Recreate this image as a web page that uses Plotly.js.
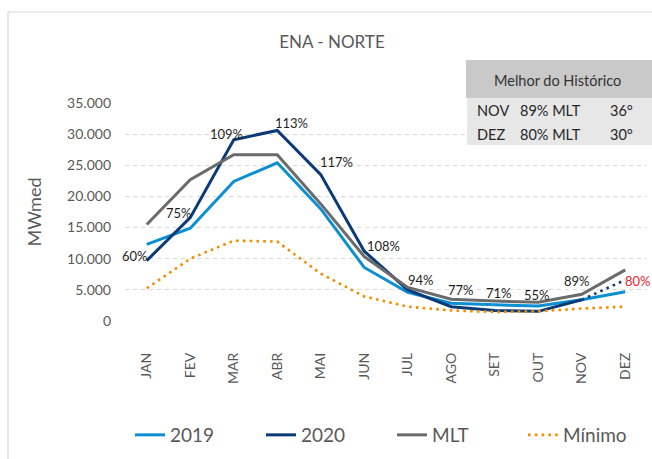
<!DOCTYPE html>
<html>
<head>
<meta charset="utf-8">
<script src="https://cdn.plot.ly/plotly-3.0.1.min.js"></script>
<style>
  html, body { margin: 0; padding: 0; background: #ffffff; }
  #chart { width: 652px; height: 459px; }
</style>
</head>
<body>
<div id="chart"></div>
<script>
// ---- data ----
const months = ['JAN','FEV','MAR','ABR','MAI','JUN','JUL','AGO','SET','OUT','NOV','DEZ'];
const y2019  = [12300, 14900, 22400, 25400, 18000, 8600, 4600, 2850, 2600, 2400, 3400, 4700];
const y2020  = [9700, 16600, 29100, 30600, 23500, 11200, 5000, 2300, 1700, 1550, 3400, null];
const y2020f = [null, null, null, null, null, null, null, null, null, null, 3400, 6600];
const mlt    = [15500, 22700, 26700, 26700, 18800, 10350, 5400, 3500, 3200, 3000, 4300, 8200];
const minimo = [5250, 10000, 12900, 12750, 7600, 3950, 2300, 1700, 1450, 1550, 2000, 2300];
const pctLabels = ['60%','75%','109%','113%','117%','108%','94%','77%','71%','55%','89%','80%'];
const tableHeader = 'Melhor do Histórico';
const tableRows = [['NOV','89% MLT','36°'], ['DEZ','80% MLT','30°']];

// ---- layout helpers (pixel -> paper) ----
const L = 125, R = 647, T = 103, B = 321;
const PX = px => (px - L) / (R - L);
const PY = py => (B - py) / (B - T);
const FONT = 'Lato, "Open Sans", sans-serif';
const GREY = '#595959';

const pctPos = [[135,256],[179,213],[226,134],[291,123],[336,162],[383.5,246],[421,280],[461,290],[499,293],[537,295],[577,281],[638,281]];

const traces = [
  {x: months, y: y2019, name: '2019', type: 'scatter', mode: 'lines',
   line: {color: '#0A8FD2', width: 3}},
  {x: months, y: y2020, name: '2020', type: 'scatter', mode: 'lines',
   line: {color: '#0B3A78', width: 3}},
  {x: months, y: y2020f, name: '2020 (previsão)', type: 'scatter', mode: 'lines', showlegend: false,
   line: {color: '#0B3A78', width: 2.6, dash: '2.6px,4.2px'}},
  {x: months, y: mlt, name: 'MLT', type: 'scatter', mode: 'lines',
   line: {color: '#6B6B6B', width: 3}},
  {x: months, y: minimo, name: 'Mínimo', type: 'scatter', mode: 'lines',
   line: {color: '#F28C00', width: 2.6, dash: '2.6px,4.2px'}}
];

const annotations = [];
pctLabels.forEach((t, i) => {
  annotations.push({
    xref: 'paper', yref: 'paper', x: PX(pctPos[i][0]), y: PY(pctPos[i][1]),
    xanchor: 'center', yanchor: 'middle', showarrow: false, text: t,
    font: {family: FONT, size: 13, color: i === pctLabels.length - 1 ? '#E8262E' : '#1F1F1F'}
  });
});
annotations.push({
  xref: 'paper', yref: 'paper', x: PX(557), y: PY(81), xanchor: 'center', yanchor: 'middle',
  showarrow: false, text: tableHeader, font: {family: FONT, size: 14.5, color: '#333333'}
});
const colX = [475, 518, 608];
const rowY = [110, 134];
tableRows.forEach((row, r) => {
  row.forEach((cell, c) => {
    annotations.push({
      xref: 'paper', yref: 'paper', x: PX(colX[c]), y: PY(rowY[r]), xanchor: 'left', yanchor: 'middle',
      showarrow: false, text: cell, font: {family: FONT, size: 14.5, color: '#262626'}
    });
  });
});

const shapes = [
  {type: 'line', xref: 'paper', yref: 'paper', x0: PX(8), x1: PX(8), y0: PY(12), y1: PY(480),
   line: {color: '#D9D9D9', width: 1.2}},
  {type: 'line', xref: 'paper', yref: 'paper', x0: PX(8), x1: PX(670), y0: PY(12), y1: PY(12),
   line: {color: '#D9D9D9', width: 1.2}},
  {type: 'rect', xref: 'paper', yref: 'paper', x0: PX(466), x1: PX(660), y0: PY(98), y1: PY(60),
   fillcolor: '#C9C9C9', line: {width: 0}, layer: 'above'},
  {type: 'rect', xref: 'paper', yref: 'paper', x0: PX(467), x1: PX(660), y0: PY(145), y1: PY(98),
   fillcolor: '#E7E7E7', line: {width: 0}, layer: 'above'}
];

const layout = {
  width: 652, height: 459,
  margin: {l: L, r: 652 - R, t: T, b: 459 - B, pad: 0, autoexpand: false},
  paper_bgcolor: '#ffffff', plot_bgcolor: '#ffffff',
  separators: ',.',
  font: {family: FONT, color: GREY},
  title: {text: 'ENA - NORTE', xref: 'container', yref: 'container', x: 332 / 652, y: 1 - 42 / 459,
          xanchor: 'center', yanchor: 'middle', font: {family: FONT, size: 17, color: GREY}},
  xaxis: {type: 'category', range: [-0.5, 11.5], tickangle: -90, showgrid: false, zeroline: false, showline: false,
          automargin: false, ticks: '', tickfont: {family: FONT, size: 14, color: GREY}, ticklabelstandoff: 28},
  yaxis: {range: [0, 35000], dtick: 5000, tickformat: ',', showgrid: true, gridcolor: '#D9D9D9',
          griddash: '4px,4px', gridwidth: 1, zeroline: false, showline: false, ticks: '', automargin: false,
          tickfont: {family: FONT, size: 14, color: GREY}, ticklabelstandoff: 13,
          title: {text: 'MWmed', standoff: 20, font: {family: FONT, size: 18, color: GREY}}},
  legend: {orientation: 'h', xref: 'container', x: 130 / 652, xanchor: 'left',
           yref: 'container', y: 1 - 435 / 459, yanchor: 'middle',
           entrywidth: 86, entrywidthmode: 'pixels',
           font: {family: FONT, size: 19, color: GREY}, bgcolor: 'rgba(0,0,0,0)'},
  showlegend: true,
  annotations: annotations,
  shapes: shapes
};

Plotly.newPlot('chart', traces, layout, {displayModeBar: false, staticPlot: true});
</script>
</body>
</html>
